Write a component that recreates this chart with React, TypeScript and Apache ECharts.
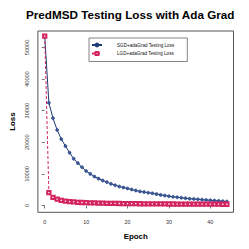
import React, { useEffect, useRef } from "react";
import * as echarts from "echarts";

const epochs = [0,1,2,3,4,5,6,7,8,9,10,11,12,13,14,15,16,17,18,19,20,21,22,23,24,25,26,27,28,29,30,31,32,33,34,35,36,37,38,39,40,41,42,43,44];
const sgdLoss = [53600,32500,27600,23900,21000,18800,16700,14800,13400,12100,10900,10000,9150,8500,7900,7400,6850,6400,6000,5700,5400,5050,4750,4450,4250,4050,3850,3600,3350,3150,2950,2750,2600,2450,2300,2150,2050,1950,1850,1750,1650,1550,1450,1350,1250];
const lgdLoss = [53600,4100,2600,2000,1650,1400,1250,1120,1020,950,890,840,800,760,730,700,680,660,640,620,600,585,570,555,540,530,520,510,500,490,480,470,460,450,445,440,435,430,425,420,415,410,405,400,395];
const xTicks = [0, 10, 20, 30, 40];
const yTicks = [0, 10000, 20000, 30000, 40000, 50000];
const seriesNames = ["SGD+adaGrad Testing Loss", "LGD+adaGrad Testing Loss"];
const titleText = "PredMSD Testing Loss with Ada Grad";

const FONT = "Liberation Sans, Arial, Helvetica, sans-serif";

export default function App() {
  const ref = useRef<HTMLDivElement>(null);
  useEffect(() => {
    if (!ref.current) return;
    const chart = echarts.init(ref.current, null, { renderer: "svg" });
    chart.setOption({
      animation: false,
      backgroundColor: "#ffffff",
      title: {
        text: titleText,
        left: 26,
        top: 8,
        padding: 0,
        textStyle: { fontFamily: FONT, fontSize: 11.7, fontWeight: "bold", color: "#000" },
      },
      legend: {
        left: 89,
        top: 38,
        orient: "vertical",
        selectedMode: false,
        backgroundColor: "#fff",
        borderColor: "#666",
        borderWidth: 0.8,
        borderRadius: 0,
        padding: [4.5, 13, 5.5, 2],
        itemWidth: 10,
        itemHeight: 3.5,
        itemGap: 3.5,
        textStyle: { fontFamily: FONT, fontSize: 4.6, color: "#111", padding: [0, 0, 0, 10] },
        data: seriesNames,
      },
      grid: {
        left: 29,
        right: 15.5,
        top: 31,
        bottom: 36.7,
        show: true,
        borderColor: "#555",
        borderWidth: 1,
        backgroundColor: "transparent",
      },
      xAxis: {
        type: "value",
        min: -1.65,
        max: 45.6,
        name: "Epoch",
        nameLocation: "middle",
        nameGap: 20,
        nameTextStyle: { fontFamily: FONT, fontSize: 7.9, fontWeight: "bold", color: "#000" },
        axisLine: { show: false },
        axisTick: { show: true, length: 3, lineStyle: { color: "#555", width: 0.8 }, customValues: xTicks },
        axisLabel: { fontFamily: FONT, fontSize: 5.4, color: "#333", margin: 7, customValues: xTicks },
        splitLine: { show: false },
      },
      yAxis: {
        type: "value",
        min: -2150,
        max: 55200,
        name: "Loss",
        nameLocation: "middle",
        nameGap: 20,
        nameTextStyle: { fontFamily: FONT, fontSize: 7.9, fontWeight: "bold", color: "#000" },
        axisLine: { show: false },
        axisTick: { show: true, length: 3, lineStyle: { color: "#555", width: 0.8 }, customValues: yTicks },
        axisLabel: {
          fontFamily: FONT,
          fontSize: 5.6,
          color: "#333",
          margin: 8,
          rotate: 90,
          customValues: yTicks,
          formatter: (v: number) => String(v),
        },
        splitLine: { show: false },
      },
      series: [
        {
          name: seriesNames[0],
          type: "line",
          data: epochs.map((e, i) => [e, sgdLoss[i]]),
          symbol: "circle",
          symbolSize: 3,
          lineStyle: { color: "#1e3a78", width: 1 },
          itemStyle: { color: "#3e5c9c", borderColor: "#1e3a78", borderWidth: 0.6 },
          z: 2,
        },
        {
          name: seriesNames[1],
          type: "line",
          data: epochs.map((e, i) => [e, lgdLoss[i]]),
          symbol: "emptyRect",
          symbolSize: 3.3,
          lineStyle: { color: "#d3245f", width: 1, type: [3, 2] },
          itemStyle: { color: "#d3245f", borderColor: "#d3245f", borderWidth: 0.7 },
          z: 3,
        },
      ],
    });
    return () => chart.dispose();
  }, []);
  return (
    <div
      ref={ref}
      style={{ position: "fixed", left: 0, top: 0, width: 249, height: 249 }}
    />
  );
}
